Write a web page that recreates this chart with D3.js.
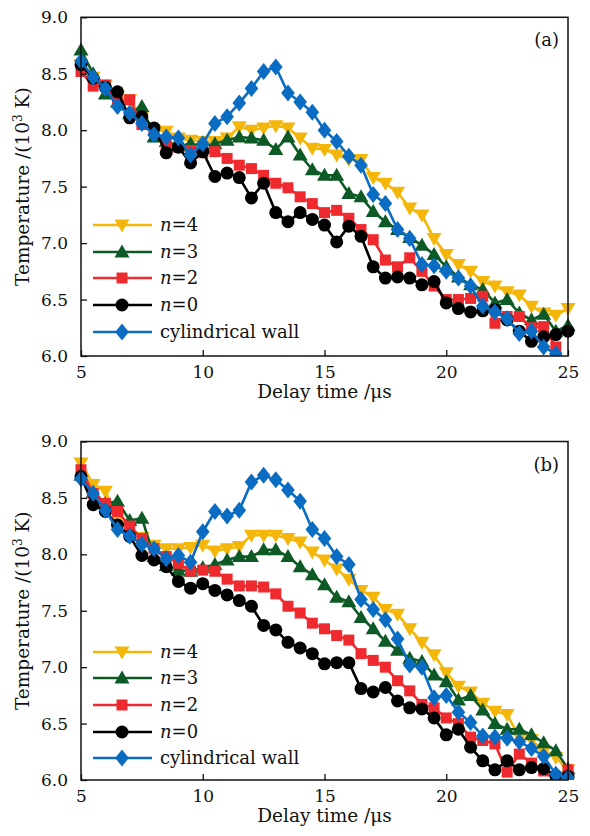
<!DOCTYPE html>
<html><head><meta charset="utf-8">
<script src="https://cdn.jsdelivr.net/npm/d3@7"></script>
<style>
body{margin:0;background:#fff}
svg{display:block}
text{font-family:"DejaVu Serif","Liberation Serif",serif;fill:#111}
</style>
</head><body>
<svg id="chart" width="590" height="836"></svg>
<script>
// ---------- data ----------
const delayTimes = [5,5.5,6,6.5,7,7.5,8,8.5,9,9.5,10,10.5,11,11.5,12,12.5,13,13.5,14,14.5,15,15.5,16,16.5,17,17.5,18,18.5,19,19.5,20,20.5,21,21.5,22,22.5,23,23.5,24,24.5,25];
const xTickValues = [5,10,15,20,25];
const yTickValues = [6.0,6.5,7.0,7.5,8.0,8.5,9.0];
const seriesLabels = ["n=4","n=3","n=2","n=0","cylindrical wall"];
const seriesColors = ["#F5B60A","#0E5A26","#EE2A2E","#000000","#0A6CC2"];
const seriesMarkers = ["triangleDown","triangleUp","square","circle","diamond"];
const panelLabels = ["(a)","(b)"];

const panelA_n4  = [8.58,8.47,8.40,8.30,8.27,8.12,8.00,7.99,7.93,7.91,7.90,7.90,7.93,8.03,8.00,8.02,8.04,8.02,7.93,7.84,7.83,7.78,7.74,7.74,7.58,7.53,7.45,7.31,7.25,7.04,6.90,6.81,6.75,6.66,6.62,6.57,6.54,6.44,6.38,6.36,6.42];
const panelA_n3  = [8.71,8.50,8.32,8.25,8.15,8.21,7.94,7.90,7.86,7.88,7.86,7.88,7.91,7.94,7.93,7.91,7.83,7.94,7.78,7.65,7.60,7.60,7.44,7.41,7.28,7.19,7.12,7.05,6.98,6.90,6.79,6.70,6.63,6.59,6.47,6.50,6.38,6.32,6.37,6.22,6.27];
const panelA_n2  = [8.52,8.39,8.40,8.25,8.27,8.05,8.00,7.88,7.85,7.82,7.80,7.81,7.75,7.69,7.66,7.60,7.53,7.49,7.41,7.35,7.27,7.29,7.22,7.12,7.03,6.85,6.79,6.87,6.75,6.62,6.50,6.50,6.51,6.53,6.29,6.35,6.35,6.25,6.26,6.08,5.85];
const panelA_n0  = [8.58,8.46,8.38,8.34,8.11,8.12,8.02,7.80,7.85,7.71,7.81,7.59,7.62,7.58,7.40,7.53,7.27,7.19,7.27,7.21,7.16,7.01,7.15,7.06,6.79,6.69,6.70,6.69,6.63,6.66,6.47,6.42,6.39,6.40,6.41,6.32,6.22,6.13,6.17,6.19,6.22];
const panelA_cyl = [8.61,8.47,8.37,8.21,8.15,8.06,7.96,7.94,7.93,7.78,7.88,8.06,8.12,8.24,8.37,8.52,8.56,8.33,8.25,8.16,8.00,7.90,7.77,7.69,7.43,7.35,7.12,7.04,6.81,6.80,6.75,6.69,6.62,6.44,6.39,6.33,6.20,6.22,6.08,6.02,5.85];

const panelB_n4  = [8.81,8.62,8.56,8.32,8.25,8.15,8.08,8.05,8.05,8.06,8.08,8.03,8.05,8.07,8.17,8.17,8.17,8.14,8.11,8.02,7.95,7.87,7.78,7.68,7.62,7.51,7.47,7.34,7.22,7.11,6.95,6.83,6.78,6.68,6.61,6.58,6.38,6.36,6.25,6.20,6.09];
const panelB_n3  = [8.70,8.55,8.45,8.47,8.30,8.32,7.98,7.90,7.86,7.85,7.88,7.91,7.95,7.98,7.98,8.04,8.04,7.98,7.89,7.82,7.73,7.62,7.58,7.44,7.34,7.23,7.15,7.08,7.05,6.93,6.87,6.71,6.75,6.62,6.50,6.45,6.45,6.40,6.33,6.26,6.10];
const panelB_n2  = [8.75,8.54,8.45,8.38,8.25,8.14,8.05,7.98,7.92,7.85,7.86,7.85,7.78,7.72,7.72,7.71,7.65,7.54,7.48,7.39,7.34,7.28,7.24,7.12,7.06,7.00,6.88,6.79,6.67,6.64,6.55,6.50,6.38,6.35,6.32,6.07,6.23,6.15,6.08,6.00,6.09];
const panelB_n0  = [8.69,8.44,8.38,8.26,8.16,7.99,7.95,7.89,7.76,7.70,7.74,7.68,7.64,7.59,7.54,7.37,7.33,7.22,7.17,7.12,7.03,7.04,7.04,6.81,6.78,6.82,6.70,6.64,6.63,6.55,6.40,6.45,6.29,6.17,6.09,6.17,6.09,6.11,6.10,6.04,6.03];
const panelB_cyl = [8.67,8.54,8.39,8.22,8.16,8.09,8.05,7.96,7.99,7.93,8.20,8.38,8.34,8.39,8.64,8.70,8.66,8.57,8.47,8.22,8.14,7.98,7.91,7.60,7.51,7.42,7.25,7.02,7.00,6.73,6.75,6.60,6.51,6.39,6.38,6.37,6.34,6.28,6.21,6.05,6.02];

const panelSeries = [
  [panelA_n4, panelA_n3, panelA_n2, panelA_n0, panelA_cyl],
  [panelB_n4, panelB_n3, panelB_n2, panelB_n0, panelB_cyl]
];

// ---------- layout ----------
const svg = d3.select("#chart");
const plotLeft = 81, plotRight = 568;
const panelBoxes = [{top:17.3,bottom:356},{top:441.5,bottom:780}];
const legendRows = [[225,252,278,305,332],[652,678,705,732,758]];

const x = d3.scaleLinear().domain([5,25]).range([plotLeft, plotRight]);

function markerPath(kind){
  const p = d3.path();
  if(kind==="triangleDown"){ p.moveTo(-7.5,-5.5); p.lineTo(7.5,-5.5); p.lineTo(0,7.5); p.closePath(); }
  else if(kind==="triangleUp"){ p.moveTo(-7.5,5.5); p.lineTo(7.5,5.5); p.lineTo(0,-7.5); p.closePath(); }
  else if(kind==="square"){ p.rect(-5.5,-5.5,11,11); }
  else if(kind==="circle"){ p.arc(0,0,6.5,0,2*Math.PI); }
  else { p.moveTo(0,-8.5); p.lineTo(6.8,0); p.lineTo(0,8.5); p.lineTo(-6.8,0); p.closePath(); }
  return p.toString();
}

panelBoxes.forEach((box, pi) => {
  const y = d3.scaleLinear().domain([6,9]).range([box.bottom, box.top]);
  const g = svg.append("g");

  const clipId = "clip"+pi;
  svg.append("defs").append("clipPath").attr("id",clipId)
    .append("rect").attr("x",0).attr("y",box.top-20).attr("width",590).attr("height",box.bottom-box.top+20);

  // series
  const data = panelSeries[pi];
  const line = d3.line().x((d,i)=>x(delayTimes[i])).y(d=>y(d));
  const sg = g.append("g").attr("clip-path",`url(#${clipId})`);
  data.forEach((vals, si) => {
    sg.append("path").datum(vals).attr("d", line)
      .attr("fill","none").attr("stroke",seriesColors[si]).attr("stroke-width",2.6).attr("stroke-linejoin","round");
    sg.selectAll(null).data(vals).join("path")
      .attr("d", markerPath(seriesMarkers[si]))
      .attr("transform",(d,i)=>`translate(${x(delayTimes[i])},${y(d)})`)
      .attr("fill",seriesColors[si]);
  });

  // axes
  const xAxis = d3.axisBottom(x).tickValues(xTickValues).tickFormat(d3.format("d")).tickSizeInner(-6).tickSizeOuter(0).tickPadding(10);
  const ga = g.append("g").attr("transform",`translate(0,${box.bottom})`).call(xAxis);
  const yAxis = d3.axisLeft(y).tickValues(yTickValues).tickFormat(d3.format(".1f")).tickSizeInner(-6).tickSizeOuter(0).tickPadding(13);
  const gy = g.append("g").attr("transform",`translate(${plotLeft},0)`).call(yAxis);
  [ga,gy].forEach(a=>{
    a.select(".domain").remove();
    a.selectAll("line").attr("stroke","#111").attr("stroke-width",1.3);
    a.selectAll("text").attr("font-size",17).attr("font-family","DejaVu Serif").attr("fill","#111");
  });

  // frame
  g.append("rect").attr("x",plotLeft).attr("y",box.top).attr("width",plotRight-plotLeft).attr("height",box.bottom-box.top)
    .attr("fill","none").attr("stroke","#111").attr("stroke-width",1.5);

  // titles
  g.append("text").attr("x",(plotLeft+plotRight)/2).attr("y",box.bottom+42).attr("text-anchor","middle")
    .attr("font-size",18.5).text("Delay time /μs");
  const yt = g.append("text").attr("transform",`translate(29,${(box.top+box.bottom)/2}) rotate(-90)`)
    .attr("text-anchor","middle").attr("font-size",18.5);
  yt.append("tspan").text("Temperature /(10");
  yt.append("tspan").attr("font-size",12).attr("dy",-7).text("3");
  yt.append("tspan").attr("dy",7).text(" K)");

  g.append("text").attr("x",559).attr("y",box.top+29).attr("text-anchor","end").attr("font-size",18).text(panelLabels[pi]);

  // legend
  seriesLabels.forEach((lab, si) => {
    const ly = legendRows[pi][si];
    g.append("line").attr("x1",93).attr("x2",152).attr("y1",ly).attr("y2",ly)
      .attr("stroke",seriesColors[si]).attr("stroke-width",2.6);
    g.append("path").attr("d",markerPath(seriesMarkers[si])).attr("transform",`translate(122,${ly})`).attr("fill",seriesColors[si]);
    const t = g.append("text").attr("x",160).attr("y",ly+6).attr("font-size",18);
    if(lab.startsWith("n=")){
      t.append("tspan").attr("font-style","italic").text("n");
      t.append("tspan").text(lab.slice(1));
    } else t.text(lab);
  });
});
</script>
</body></html>
